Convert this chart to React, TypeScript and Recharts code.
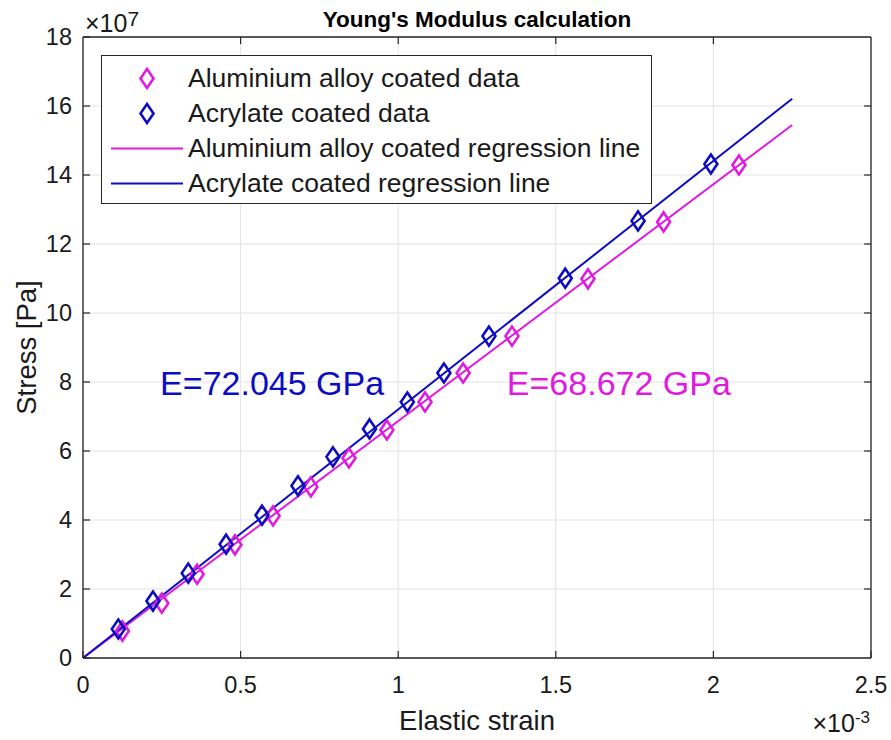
import React from 'react';
import {
  ComposedChart,
  Scatter,
  Line,
  XAxis,
  YAxis,
  CartesianGrid,
  Legend,
  ReferenceDot,
  ReferenceLine,
  Label,
} from 'recharts';

// strain in units of 1e-3, stress in units of 1e7 Pa
const strainTicks = [0, 0.5, 1, 1.5, 2, 2.5];
const stressTicks = [0, 2, 4, 6, 8, 10, 12, 14, 16, 18];

const aluminiumStrain = [0.125, 0.25, 0.362, 0.482, 0.603, 0.723, 0.844, 0.964, 1.085, 1.206, 1.361, 1.602, 1.842, 2.081];
const aluminiumStress = [0.78, 1.59, 2.43, 3.28, 4.12, 4.96, 5.80, 6.61, 7.42, 8.26, 9.33, 10.99, 12.64, 14.29];

const acrylateStrain = [0.112, 0.222, 0.334, 0.454, 0.568, 0.682, 0.793, 0.909, 1.029, 1.145, 1.288, 1.530, 1.761, 1.992];
const acrylateStress = [0.84, 1.65, 2.46, 3.30, 4.14, 4.99, 5.83, 6.64, 7.42, 8.26, 9.33, 11.01, 12.67, 14.32];

const aluminiumFitStrain = [0, 2.25];
const aluminiumFitStress = [0, 15.45];
const acrylateFitStrain = [0, 2.25];
const acrylateFitStress = [0, 16.21];

const aluminiumLabel = 'E=68.672 GPa';
const acrylateLabel = 'E=72.045 GPa';

const MAGENTA = '#E01BE0';
const BLUE = '#0D0DBF';
const AXIS = '#262626';
const FONT = '"Liberation Sans", Arial, Helvetica, sans-serif';

const X_MAX = 2.5;
const Y_MAX = 18;

const zip = (xs: number[], ys: number[]) => xs.map((x, i) => ({ x, y: ys[i] }));

const aluminiumData = zip(aluminiumStrain, aluminiumStress);
const acrylateData = zip(acrylateStrain, acrylateStress);
const aluminiumFit = zip(aluminiumFitStrain, aluminiumFitStress);
const acrylateFit = zip(acrylateFitStrain, acrylateFitStress);

const legendItems = [
  { name: 'Aluminium alloy coated data', color: MAGENTA, kind: 'marker' },
  { name: 'Acrylate coated data', color: BLUE, kind: 'marker' },
  { name: 'Aluminium alloy coated regression line', color: MAGENTA, kind: 'line' },
  { name: 'Acrylate coated regression line', color: BLUE, kind: 'line' },
];

const Diamond = (color: string) => (props: any) => {
  const { cx, cy } = props;
  if (cx == null || cy == null) return null;
  const w = 6.5;
  const h = 9.5;
  return (
    <polygon
      points={`${cx},${cy - h} ${cx + w},${cy} ${cx},${cy + h} ${cx - w},${cy}`}
      fill="none"
      stroke={color}
      strokeWidth={2.6}
    />
  );
};

const fmt = (v: number) => String(v);

const BottomTick = (props: any) => {
  const { x, y, payload } = props;
  return (
    <g>
      <line x1={x} y1={y} x2={x} y2={y - 7} stroke={AXIS} strokeWidth={1.2} />
      <text x={x} y={y + 35} textAnchor="middle" fontSize={23.5} fill="#1a1a1a" fontFamily={FONT}>
        {fmt(payload.value)}
      </text>
    </g>
  );
};

const LeftTick = (props: any) => {
  const { x, y, payload } = props;
  return (
    <g>
      <line x1={x} y1={y} x2={x + 7} y2={y} stroke={AXIS} strokeWidth={1.2} />
      <text x={x - 11} y={y + 8} textAnchor="end" fontSize={23.5} fill="#1a1a1a" fontFamily={FONT}>
        {fmt(payload.value)}
      </text>
    </g>
  );
};

const renderLegend = () => (
  <div
    style={{
      width: 551,
      height: 149,
      boxSizing: 'border-box',
      border: `1.3px solid ${AXIS}`,
      background: '#fff',
      paddingTop: 5,
      fontFamily: FONT,
    }}
  >
    {legendItems.map((it) => (
      <div key={it.name} style={{ display: 'flex', alignItems: 'center', height: 35 }}>
        <svg width={86} height={35} style={{ display: 'block', flex: 'none' }}>
          {it.kind === 'marker' ? (
            <polygon points="45,8 51.5,17.5 45,27 38.5,17.5" fill="none" stroke={it.color} strokeWidth={2.6} />
          ) : (
            <line x1={9} y1={17.5} x2={81} y2={17.5} stroke={it.color} strokeWidth={2} />
          )}
        </svg>
        <span style={{ fontSize: 26.5, color: '#1a1a1a', lineHeight: '35px', whiteSpace: 'nowrap' }}>{it.name}</span>
      </div>
    ))}
  </div>
);

const TitleContent = (props: any) => {
  const { viewBox } = props;
  const cx = viewBox.x + viewBox.width / 2;
  return (
    <g>
      <text x={cx} y={viewBox.y - 10} textAnchor="middle" fontSize={22.5} fontWeight="bold" fill="#000" fontFamily={FONT}>
        Young's Modulus calculation
      </text>
      <text x={viewBox.x + 2} y={viewBox.y - 5} fontSize={25} fill="#1a1a1a" fontFamily={FONT}>
        <tspan>×10</tspan>
        <tspan dy={-6} fontSize={21}>7</tspan>
      </text>
    </g>
  );
};

const XLabelContent = (props: any) => {
  const { viewBox } = props;
  const cx = viewBox.x + viewBox.width / 2;
  return (
    <g>
      <text x={cx} y={viewBox.y + 72} textAnchor="middle" fontSize={27.5} fill="#1a1a1a" fontFamily={FONT}>
        Elastic strain
      </text>
      <text x={viewBox.x + viewBox.width - 1} y={viewBox.y + 74} textAnchor="end" fontSize={25} fill="#1a1a1a" fontFamily={FONT}>
        <tspan>×10</tspan>
        <tspan dy={-9} fontSize={17}>-3</tspan>
      </text>
    </g>
  );
};

const YLabelContent = (props: any) => {
  const { viewBox } = props;
  const cy = viewBox.y + viewBox.height / 2;
  const x = 36;
  return (
    <text
      x={x}
      y={cy}
      transform={`rotate(-90, ${x}, ${cy})`}
      textAnchor="middle"
      fontSize={27.5}
      fill="#1a1a1a"
      fontFamily={FONT}
    >
      Stress [Pa]
    </text>
  );
};

const annotation = (text: string, color: string) => (props: any) => {
  const { viewBox } = props;
  const x = viewBox.x + (viewBox.width || 0) / 2;
  const y = viewBox.y + (viewBox.height || 0) / 2;
  return (
    <text x={x} y={y + 12} textAnchor="middle" fontSize={34} fill={color} fontFamily={FONT}>
      {text}
    </text>
  );
};

export default function App() {
  return (
    <div style={{ position: 'absolute', left: 0, top: 0, width: 891, height: 740, background: '#fff' }}>
      <ComposedChart width={891} height={740} margin={{ top: 37, right: 20, bottom: 0, left: 0 }}>
        <CartesianGrid stroke="#e2e2e2" strokeWidth={1} />
        <XAxis
          type="number"
          dataKey="x"
          domain={[0, X_MAX]}
          ticks={strainTicks}
          interval={0}
          height={82}
          tickSize={0}
          tickMargin={0}
          tickLine={false}
          axisLine={{ stroke: AXIS, strokeWidth: 1.3 }}
          tick={<BottomTick />}
          allowDataOverflow
        >
          <Label content={<XLabelContent />} />
        </XAxis>
        <YAxis
          type="number"
          dataKey="y"
          domain={[0, Y_MAX]}
          ticks={stressTicks}
          interval={0}
          width={83}
          tickSize={0}
          tickMargin={0}
          tickLine={false}
          axisLine={{ stroke: AXIS, strokeWidth: 1.3 }}
          tick={<LeftTick />}
          allowDataOverflow
        >
          <Label content={<YLabelContent />} />
        </YAxis>
        <Scatter
          name="Aluminium alloy coated data"
          data={aluminiumData}
          dataKey="y"
          shape={Diamond(MAGENTA)}
          isAnimationActive={false}
        />
        <Scatter
          name="Acrylate coated data"
          data={acrylateData}
          dataKey="y"
          shape={Diamond(BLUE)}
          isAnimationActive={false}
        />
        <Line
          name="Aluminium alloy coated regression line"
          data={aluminiumFit}
          dataKey="y"
          type="linear"
          stroke={MAGENTA}
          strokeWidth={2}
          dot={false}
          activeDot={false}
          isAnimationActive={false}
        />
        <Line
          name="Acrylate coated regression line"
          data={acrylateFit}
          dataKey="y"
          type="linear"
          stroke={BLUE}
          strokeWidth={2}
          dot={false}
          activeDot={false}
          isAnimationActive={false}
        />
        {strainTicks.slice(1, -1).map((t) => (
          <ReferenceLine
            key={`tt${t}`}
            segment={[{ x: t, y: Y_MAX }, { x: t, y: Y_MAX - 0.2 }]}
            stroke={AXIS}
            strokeWidth={1.2}
            ifOverflow="visible"
          />
        ))}
        {stressTicks.slice(1, -1).map((t) => (
          <ReferenceLine
            key={`rt${t}`}
            segment={[{ x: X_MAX, y: t }, { x: X_MAX - 0.022, y: t }]}
            stroke={AXIS}
            strokeWidth={1.2}
            ifOverflow="visible"
          />
        ))}
        <ReferenceLine y={Y_MAX} stroke={AXIS} strokeWidth={1.3} ifOverflow="visible" label={<TitleContent />} />
        <ReferenceLine x={X_MAX} stroke={AXIS} strokeWidth={1.3} ifOverflow="visible" />
        <ReferenceDot x={0.6} y={7.96} r={0} fill="none" stroke="none" label={annotation(acrylateLabel, BLUE)} />
        <ReferenceDot x={1.7} y={7.96} r={0} fill="none" stroke="none" label={annotation(aluminiumLabel, MAGENTA)} />
        <Legend
          layout="vertical"
          align="center"
          verticalAlign="middle"
          content={renderLegend}
          wrapperStyle={{ left: 101, top: 55, width: 551, height: 149 }}
        />
      </ComposedChart>
    </div>
  );
}
